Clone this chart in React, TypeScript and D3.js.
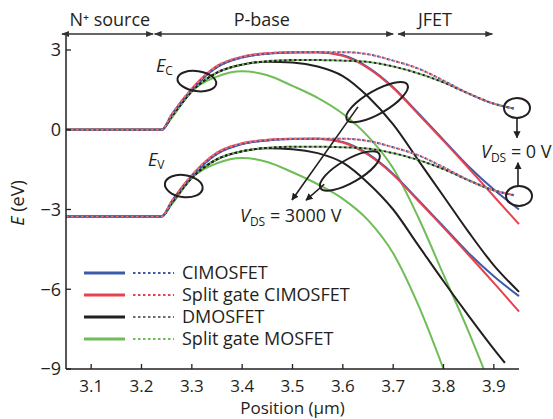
import React from 'react';
import * as d3 from 'd3';

const W = 553;
const H = 419;
const FONT = "'Open Sans', 'DejaVu Sans', sans-serif";

// ---------- data ----------
const xTicks = [3.1, 3.2, 3.3, 3.4, 3.5, 3.6, 3.7, 3.8, 3.9];
const yTicks = [3, 0, -3, -6, -9];

const regionNames = ['N\u207A source', 'P-base', 'JFET'];
const regionStart = [3.042, 3.226, 3.71];
const regionEnd = [3.223, 3.70, 3.897];
const regionLabelX = [3.137, 3.439, 3.783];

const posFull = [3.05, 3.24, 3.26, 3.3, 3.35, 3.4, 3.45, 3.5, 3.55, 3.6, 3.65, 3.7, 3.75, 3.8, 3.85, 3.9, 3.95];
const posDot = [3.05, 3.24, 3.26, 3.3, 3.35, 3.4, 3.45, 3.5, 3.55, 3.6, 3.65, 3.7, 3.75, 3.8, 3.85, 3.9, 3.94];
const posGreenEc = [3.05, 3.24, 3.26, 3.3, 3.35, 3.4, 3.45, 3.5, 3.55, 3.6, 3.65, 3.7, 3.75, 3.8, 3.85, 3.88];
const posGreenEv = [3.05, 3.24, 3.26, 3.3, 3.35, 3.4, 3.45, 3.5, 3.55, 3.6, 3.65, 3.7, 3.75, 3.8];
const posBlackEv = [3.05, 3.24, 3.26, 3.3, 3.35, 3.4, 3.45, 3.5, 3.55, 3.6, 3.65, 3.7, 3.75, 3.8, 3.85, 3.9, 3.922];

// conduction band (Ec)
const ecBlue3000 = [0, 0, 0.55, 1.5, 2.35, 2.72, 2.86, 2.91, 2.92, 2.8, 2.35, 1.6, 0.62, -0.38, -1.38, -2.25, -3.0];
const ecRed3000 = [0, 0, 0.58, 1.55, 2.4, 2.75, 2.88, 2.92, 2.92, 2.78, 2.32, 1.57, 0.58, -0.42, -1.45, -2.5, -3.55];
const ecBlue0 = [0, 0, 0.55, 1.5, 2.35, 2.72, 2.86, 2.91, 2.92, 2.92, 2.84, 2.6, 2.3, 1.85, 1.36, 0.98, 0.8];
const ecRed0 = [0, 0, 0.58, 1.55, 2.4, 2.75, 2.88, 2.92, 2.92, 2.92, 2.84, 2.6, 2.3, 1.85, 1.36, 0.98, 0.8];
const ecBlack3000 = [0, 0, 0.5, 1.45, 2.15, 2.45, 2.56, 2.53, 2.38, 2.02, 1.25, 0.2, -1.15, -2.5, -3.85, -5.1, -6.1];
const ecBlack0 = [0, 0, 0.5, 1.45, 2.15, 2.45, 2.58, 2.62, 2.62, 2.6, 2.55, 2.38, 2.12, 1.78, 1.36, 0.98, 0.8];
const ecGreen3000 = [0, 0, 0.45, 1.45, 2.0, 2.2, 2.05, 1.65, 1.2, 0.6, -0.25, -1.45, -3.3, -5.45, -7.6, -9.0];
const ecGreen0 = [0, 0, 0.5, 1.45, 2.15, 2.45, 2.58, 2.62, 2.62, 2.6, 2.55, 2.38, 2.12, 1.78, 1.36, 0.98, 0.8];

// valence band (Ev)
const evBlue3000 = [-3.26, -3.26, -2.71, -1.76, -0.91, -0.54, -0.4, -0.35, -0.34, -0.46, -0.91, -1.66, -2.64, -3.64, -4.64, -5.51, -6.26];
const evRed3000 = [-3.26, -3.26, -2.68, -1.71, -0.86, -0.51, -0.38, -0.34, -0.34, -0.48, -0.94, -1.69, -2.68, -3.68, -4.71, -5.76, -6.84];
const evBlue0 = [-3.26, -3.26, -2.71, -1.76, -0.91, -0.54, -0.4, -0.35, -0.34, -0.34, -0.42, -0.66, -0.96, -1.41, -1.9, -2.28, -2.46];
const evRed0 = [-3.26, -3.26, -2.68, -1.71, -0.86, -0.51, -0.38, -0.34, -0.34, -0.34, -0.42, -0.66, -0.96, -1.41, -1.9, -2.28, -2.46];
const evBlack3000 = [-3.26, -3.26, -2.76, -1.81, -1.11, -0.81, -0.7, -0.73, -0.88, -1.24, -2.0, -3.0, -4.35, -5.7, -7.0, -8.25, -8.77];
const evBlack0 = [-3.26, -3.26, -2.76, -1.81, -1.11, -0.81, -0.68, -0.64, -0.64, -0.66, -0.71, -0.88, -1.14, -1.48, -1.9, -2.28, -2.46];
const evGreen3000 = [-3.26, -3.26, -2.81, -1.81, -1.26, -1.06, -1.21, -1.6, -2.05, -2.6, -3.4, -4.65, -6.6, -9.0];
const evGreen0 = [-3.26, -3.26, -2.76, -1.81, -1.11, -0.81, -0.68, -0.64, -0.64, -0.66, -0.71, -0.88, -1.14, -1.48, -1.9, -2.28, -2.46];

const legendNames = ['CIMOSFET', 'Split gate CIMOSFET', 'DMOSFET', 'Split gate MOSFET'];

// ---------- styles ----------
const C_BLUE = '#3b5aa8';
const C_RED = '#e8424f';
const C_BLACK = '#231f20';
const C_GREEN = '#6fbd56';
const C_GREY = '#6b6b6b';

const x = d3.scaleLinear().domain([3.05, 3.95]).range([66, 519]);
const y = d3.scaleLinear().domain([-9, 3]).range([369, 50]);
const yTop = 36;

type Series = { pos: number[]; e: number[]; color: string; dotted: boolean; offset?: number };

const solids: Series[] = [
  { pos: posGreenEc, e: ecGreen3000, color: C_GREEN, dotted: false },
  { pos: posGreenEv, e: evGreen3000, color: C_GREEN, dotted: false },
  { pos: posFull, e: ecBlack3000, color: C_BLACK, dotted: false },
  { pos: posBlackEv, e: evBlack3000, color: C_BLACK, dotted: false },
  { pos: posFull, e: ecBlue3000, color: C_BLUE, dotted: false },
  { pos: posFull, e: evBlue3000, color: C_BLUE, dotted: false },
  { pos: posFull, e: ecRed3000, color: C_RED, dotted: false },
  { pos: posFull, e: evRed3000, color: C_RED, dotted: false },
];
const dots: Series[] = [
  { pos: posDot, e: ecGreen0, color: C_GREEN, dotted: true, offset: 2.5 },
  { pos: posDot, e: evGreen0, color: C_GREEN, dotted: true, offset: 2.5 },
  { pos: posDot, e: ecBlack0, color: C_BLACK, dotted: true, offset: 0 },
  { pos: posDot, e: evBlack0, color: C_BLACK, dotted: true, offset: 0 },
  { pos: posDot, e: ecBlue0, color: C_BLUE, dotted: true, offset: 2.5 },
  { pos: posDot, e: evBlue0, color: C_BLUE, dotted: true, offset: 2.5 },
  { pos: posDot, e: ecRed0, color: '#ef6f78', dotted: true, offset: 0 },
  { pos: posDot, e: evRed0, color: '#ef6f78', dotted: true, offset: 0 },
];

const lineGen = d3
  .line<[number, number]>()
  .x((d) => x(d[0]))
  .y((d) => y(d[1]))
  .curve(d3.curveMonotoneX);

function pathOf(s: Series) {
  return lineGen(s.pos.map((p, i) => [p, s.e[i]] as [number, number])) || '';
}

const legendSolid = [C_BLUE, C_RED, C_BLACK, C_GREEN];
const legendDot = [C_BLUE, C_RED, C_GREY, C_GREEN];

function Ell({ cx, cy, rx, ry, rot }: { cx: number; cy: number; rx: number; ry: number; rot: number }) {
  const px = x(cx);
  const py = y(cy);
  return (
    <ellipse
      cx={px}
      cy={py}
      rx={rx}
      ry={ry}
      fill="none"
      stroke={C_BLACK}
      strokeWidth={2}
      transform={`rotate(${rot} ${px} ${py})`}
    />
  );
}

function Arrow({ x1, y1, x2, y2 }: { x1: number; y1: number; x2: number; y2: number }) {
  return (
    <line
      x1={x(x1)}
      y1={y(y1)}
      x2={x(x2)}
      y2={y(y2)}
      stroke={C_BLACK}
      strokeWidth={1.6}
      markerEnd="url(#ah)"
    />
  );
}

export default function App() {
  const legendY0 = 273;
  const legendDy = 22;
  return (
    <svg
      width={W}
      height={H}
      style={{ position: 'absolute', left: 0, top: 0, background: '#fff' }}
      fontFamily={FONT}
    >
      <defs>
        <clipPath id="plotclip">
          <rect x={x(3.05)} y={yTop} width={x(3.95) - x(3.05) + 2} height={y(-9) - yTop} />
        </clipPath>
        <marker id="ah" viewBox="0 0 10 10" refX="9" refY="5" markerWidth="4.5" markerHeight="4.5" orient="auto">
          <path d="M0,0 L10,5 L0,10 z" fill={C_BLACK} />
        </marker>
        <marker id="ahs" viewBox="0 0 10 10" refX="9" refY="5" markerWidth="6" markerHeight="6" orient="auto-start-reverse">
          <path d="M0,1 L10,5 L0,9 z" fill="#333" />
        </marker>
      </defs>

      {/* region arrows */}
      {regionNames.map((n, i) => (
        <g key={n}>
          <line
            x1={x(regionStart[i])}
            x2={x(regionEnd[i])}
            y1={34}
            y2={34}
            stroke="#333"
            strokeWidth={1.3}
            markerStart="url(#ahs)"
            markerEnd="url(#ahs)"
          />
          <text x={x(regionLabelX[i])} y={26} fontSize={18} textAnchor="middle" fill="#231f20">
            {n}
          </text>
        </g>
      ))}

      {/* curves */}
      <g clipPath="url(#plotclip)" fill="none">
        {solids.map((s, i) => (
          <path key={'s' + i} d={pathOf(s)} stroke={s.color} strokeWidth={2} strokeLinejoin="round" />
        ))}
        {dots.map((s, i) => (
          <path
            key={'d' + i}
            d={pathOf(s)}
            stroke={s.color}
            strokeWidth={2}
            strokeDasharray="2.5,2.5"
            strokeDashoffset={s.offset || 0}
          />
        ))}
      </g>

      {/* axes */}
      <line x1={x(3.05)} x2={x(3.05)} y1={yTop} y2={y(-9)} stroke="#231f20" strokeWidth={1.5} />
      <line x1={x(3.05)} x2={x(3.95)} y1={y(-9)} y2={y(-9)} stroke="#231f20" strokeWidth={1.5} />
      {yTicks.map((t) => (
        <g key={'yt' + t}>
          <line x1={x(3.05)} x2={x(3.05) + 5} y1={y(t)} y2={y(t)} stroke="#231f20" strokeWidth={1.3} />
          <text x={61} y={y(t)} dy="0.36em" fontSize={18} textAnchor="end" fill="#231f20">
            {t < 0 ? '\u2212' + Math.abs(t) : String(t)}
          </text>
        </g>
      ))}
      {xTicks.map((t) => (
        <g key={'xt' + t}>
          <line x1={x(t)} x2={x(t)} y1={y(-9)} y2={y(-9) - 5} stroke="#231f20" strokeWidth={1.3} />
          <text x={x(t)} y={392} fontSize={17} textAnchor="middle" fill="#231f20">
            {t.toFixed(1)}
          </text>
        </g>
      ))}
      <text x={x(3.5)} y={414} fontSize={17} textAnchor="middle" fill="#231f20">
        Position (μm)
      </text>
      <text transform={`translate(24 ${203}) rotate(-90)`} fontSize={18} textAnchor="middle" fill="#231f20">
        <tspan fontStyle="italic">E</tspan> (eV)
      </text>

      {/* annotations */}
      <text x={156} y={72} fontSize={18} fill="#231f20">
        <tspan fontStyle="italic">E</tspan>
        <tspan fontSize={12} dy={3}>C</tspan>
      </text>
      <text x={148} y={166} fontSize={18} fill="#231f20">
        <tspan fontStyle="italic">E</tspan>
        <tspan fontSize={12} dy={3}>V</tspan>
      </text>
      <Ell cx={3.31} cy={1.83} rx={19.5} ry={10} rot={8} />
      <Ell cx={3.284} cy={-2.12} rx={19} ry={11} rot={8} />
      <Ell cx={3.668} cy={1.04} rx={35} ry={11.5} rot={-30} />
      <Ell cx={3.614} cy={-1.55} rx={34} ry={11.5} rot={-30} />
      <Ell cx={3.946} cy={0.82} rx={13} ry={10} rot={0} />
      <Ell cx={3.95} cy={-2.49} rx={13} ry={10} rot={0} />
      <Arrow x1={3.63} y1={0.86} x2={3.499} y2={-2.64} />
      <Arrow x1={3.563} y1={-2.05} x2={3.527} y2={-2.65} />
      <Arrow x1={3.946} y1={0.44} x2={3.946} y2={-0.3} />
      <Arrow x1={3.948} y1={-2.12} x2={3.948} y2={-1.24} />

      <text x={240} y={222} fontSize={18} fill="#231f20">
        <tspan fontStyle="italic">V</tspan>
        <tspan fontSize={12} dy={4}>DS</tspan>
        <tspan dy={-4}> = 3000 V</tspan>
      </text>
      <text x={481} y={158} fontSize={18} fill="#231f20">
        <tspan fontStyle="italic">V</tspan>
        <tspan fontSize={12} dy={4}>DS</tspan>
        <tspan dy={-4}> = 0 V</tspan>
      </text>

      {/* legend */}
      {legendNames.map((n, i) => {
        const ly = legendY0 + i * legendDy;
        return (
          <g key={n}>
            <line x1={84} x2={125} y1={ly} y2={ly} stroke={legendSolid[i]} strokeWidth={3} />
            <line
              x1={133}
              x2={174}
              y1={ly}
              y2={ly}
              stroke={legendDot[i]}
              strokeWidth={2}
              strokeDasharray="2.5,2.5"
            />
            <text x={182} y={ly} dy="0.36em" fontSize={18} fill="#231f20">
              {n}
            </text>
          </g>
        );
      })}
    </svg>
  );
}
